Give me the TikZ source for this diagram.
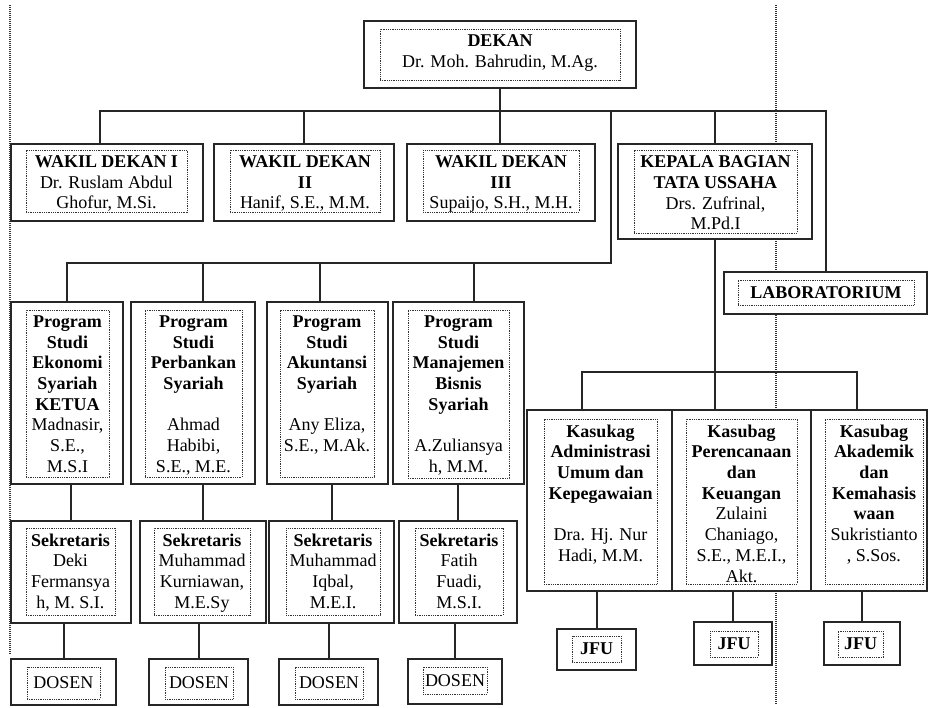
\documentclass[tikz,border=0pt]{standalone}
\usepackage{fontspec}
\setmainfont{Liberation Serif}
\usepackage{tikz}
\usetikzlibrary{positioning}
\usetikzlibrary{fit,calc}
\tikzset{
    outerbox/.style={draw=black!85, line width=2pt, fill=white, inner sep=0pt},
    innerbox/.style={draw=black!80, line width=1pt, dash pattern=on 1pt off 0.8pt, inner sep=0pt},
    unittext/.style={align=center, inner sep=0pt, font=\fontsize{18}{20.7}\selectfont},
    link/.style={draw=black!85, line width=2pt},
    guide/.style={draw=black!80, line width=1.2pt, dash pattern=on 1pt off 1pt},
}
% box with dotted text frame, text from the top
\newcommand{\orgunit}[6]{%
    \node[outerbox, fit={#2 #3}] (#1) {};
    \node[innerbox, fit={#4 #5}] (#1-in) {};
    \node[unittext, anchor=north] (#1-txt) at ($(#1-in.north)+(0,6)$) {#6};
}
\newcommand{\orgsmall}[6]{%
    \node[outerbox, fit={#2 #3}] (#1) {};
    \node[innerbox, fit={#4 #5}] (#1-in) {};
    \node[unittext] (#1-txt) at (#1-in.center) {#6};
}

\begin{document}
\begin{tikzpicture}[x=1pt, y=-1pt]
\useasboundingbox (0,0) rectangle (929,707);

\draw[guide] (10,5) -- (10,655);
\draw[guide] (776,5) -- (776,705);

\orgunit{dekan}{(364,21)}{(636,88)}{(380,29)}{(620,80)}{\textbf{DEKAN}\\Dr. Moh. Bahrudin, M.Ag.}

\orgunit{wk1}{(11,144)}{(203,221)}{(26,150)}{(187,212)}{\textbf{WAKIL DEKAN I}\\Dr. Ruslam Abdul\\Ghofur, M.Si.}
\orgunit{wk2}{(214,144)}{(394,221)}{(230,150)}{(380,212)}{\textbf{WAKIL DEKAN}\\\textbf{II}\\Hanif, S.E., M.M.}
\orgunit{wk3}{(407,144)}{(595,221)}{(423,150)}{(579,212)}{\textbf{WAKIL DEKAN}\\\textbf{III}\\Supaijo, S.H., M.H.}
\orgunit{ktu}{(618,144)}{(812,239)}{(634,150)}{(797,233)}{\textbf{KEPALA BAGIAN}\\\textbf{TATA USSAHA}\\Drs. Zufrinal,\\M.Pd.I}
\orgsmall{lab}{(724,272)}{(927,314)}{(738,280)}{(914,305)}{\textbf{LABORATORIUM}}

\orgunit{ps1}{(11,302)}{(123,484)}{(26,310)}{(109,477)}{\textbf{Program}\\\textbf{Studi}\\\textbf{Ekonomi}\\\textbf{Syariah}\\\textbf{KETUA}\\Madnasir,\\S.E.,\\M.S.I}
\orgunit{ps2}{(131,302)}{(255,484)}{(145,310)}{(242,477)}{\textbf{Program}\\\textbf{Studi}\\\textbf{Perbankan}\\\textbf{Syariah}\\[20.7pt]Ahmad\\Habibi,\\S.E., M.E.}
\orgunit{ps3}{(267,302)}{(388,484)}{(280,310)}{(374,477)}{\textbf{Program}\\\textbf{Studi}\\\textbf{Akuntansi}\\\textbf{Syariah}\\[20.7pt]Any Eliza,\\S.E., M.Ak.}
\orgunit{ps4}{(393,302)}{(524,484)}{(408,310)}{(509,478)}{\textbf{Program}\\\textbf{Studi}\\\textbf{Manajemen}\\\textbf{Bisnis}\\\textbf{Syariah}\\[20.7pt]A.Zuliansya\\h, M.M.}

\orgunit{s1}{(11,521)}{(131,623)}{(26,528)}{(115,615)}{\textbf{Sekretaris}\\Deki\\Fermansya\\h, M. S.I.}
\orgunit{s2}{(140,521)}{(266,623)}{(154,528)}{(250,615)}{\textbf{Sekretaris}\\Muhammad\\Kurniawan,\\M.E.Sy}
\orgunit{s3}{(269,521)}{(394,623)}{(286,528)}{(380,615)}{\textbf{Sekretaris}\\Muhammad\\Iqbal,\\M.E.I.}
\orgunit{s4}{(399,521)}{(517,623)}{(415,528)}{(503,615)}{\textbf{Sekretaris}\\Fatih\\Fuadi,\\M.S.I.}

\orgsmall{d1}{(11,659)}{(116,705)}{(27,667)}{(100,699)}{DOSEN}
\orgsmall{d2}{(149,659)}{(248,705)}{(165,667)}{(233,699)}{DOSEN}
\orgsmall{d3}{(279,659)}{(378,705)}{(295,667)}{(363,699)}{DOSEN}
\orgsmall{d4}{(408,659)}{(502,704)}{(423,667)}{(487,694)}{DOSEN}

\orgunit{k1}{(527,410)}{(672,591)}{(544,419)}{(657,584)}{\textbf{Kasukag}\\\textbf{Administrasi}\\\textbf{Umum dan}\\\textbf{Kepegawaian}\\[20.7pt]Dra. Hj. Nur\\Hadi, M.M.}
\orgunit{k2}{(672,410)}{(811,591)}{(686,419)}{(797,584)}{\textbf{Kasubag}\\\textbf{Perencanaan}\\\textbf{dan}\\\textbf{Keuangan}\\Zulaini\\Chaniago,\\S.E., M.E.I.,\\Akt.}
\orgunit{k3}{(811,410)}{(927,591)}{(825,419)}{(923,584)}{\textbf{Kasubag}\\\textbf{Akademik}\\\textbf{dan}\\\textbf{Kemahasis}\\\textbf{waan}\\Sukristianto\\, S.Sos.}

\orgsmall{j1}{(557,629)}{(636,670)}{(572,636)}{(621,662)}{\textbf{JFU}}
\orgsmall{j2}{(694,622)}{(772,665)}{(710,631)}{(758,657)}{\textbf{JFU}}
\orgsmall{j3}{(824,622)}{(900,665)}{(838,631)}{(883,657)}{\textbf{JFU}}

\coordinate (topbus) at (0,111);
\coordinate (psbus) at (611,263);
\coordinate (kbus) at (0,372);
\coordinate (wk1-up) at ($(wk1.north)+(-7,0)$);
\coordinate (ps2-up) at ($(ps2.north)+(10,0)$);
\coordinate (ps3-up) at ($(ps3.north)+(-8,0)$);
\coordinate (ps4-up) at ($(ps4.north)+(15,0)$);
\coordinate (k1-up) at ($(k1.north)+(-18,0)$);
\coordinate (k3-up) at ($(k3.north)+(-12,0)$);

\draw[link] (wk1-up) |- (lab.north |- topbus) -- (lab.north);
\draw[link] (wk2.north) -- (wk2.north |- topbus);
\draw[link] (dekan.south) -- (dekan.south |- wk3.north);
\draw[link] (ktu.north) -- (ktu.north |- topbus);

\draw[link] (psbus |- topbus) -- (psbus) -| (ps1.north);
\draw[link] (ps2-up) -- (ps2-up |- psbus);
\draw[link] (ps3-up) -- (ps3-up |- psbus);
\draw[link] (ps4-up) -- (ps4-up |- psbus);

\draw[link] (s1.north) -- (s1.north |- ps1.south);
\draw[link] (s2.north) -- (s2.north |- ps2.south);
\draw[link] (s3.north) -- (s3.north |- ps3.south);
\draw[link] (s4.north) -- (s4.north |- ps4.south);
\draw[link] (d1.north) -- (d1.north |- s1.south);
\draw[link] (d2.north) -- (d2.north |- s2.south);
\draw[link] (d3.north) -- (d3.north |- s3.south);
\draw[link] (d4.north) -- (d4.north |- s4.south);

\draw[link] (ktu.south) -- (ktu.south |- k2.north);
\draw[link] (k1-up) |- (k3-up |- kbus) -- (k3-up);
\draw[link] (j1.north) -- (j1.north |- k1.south);
\draw[link] (j2.north) -- (j2.north |- k2.south);
\draw[link] (j3.north) -- (j3.north |- k3.south);
\end{tikzpicture}
\end{document}
